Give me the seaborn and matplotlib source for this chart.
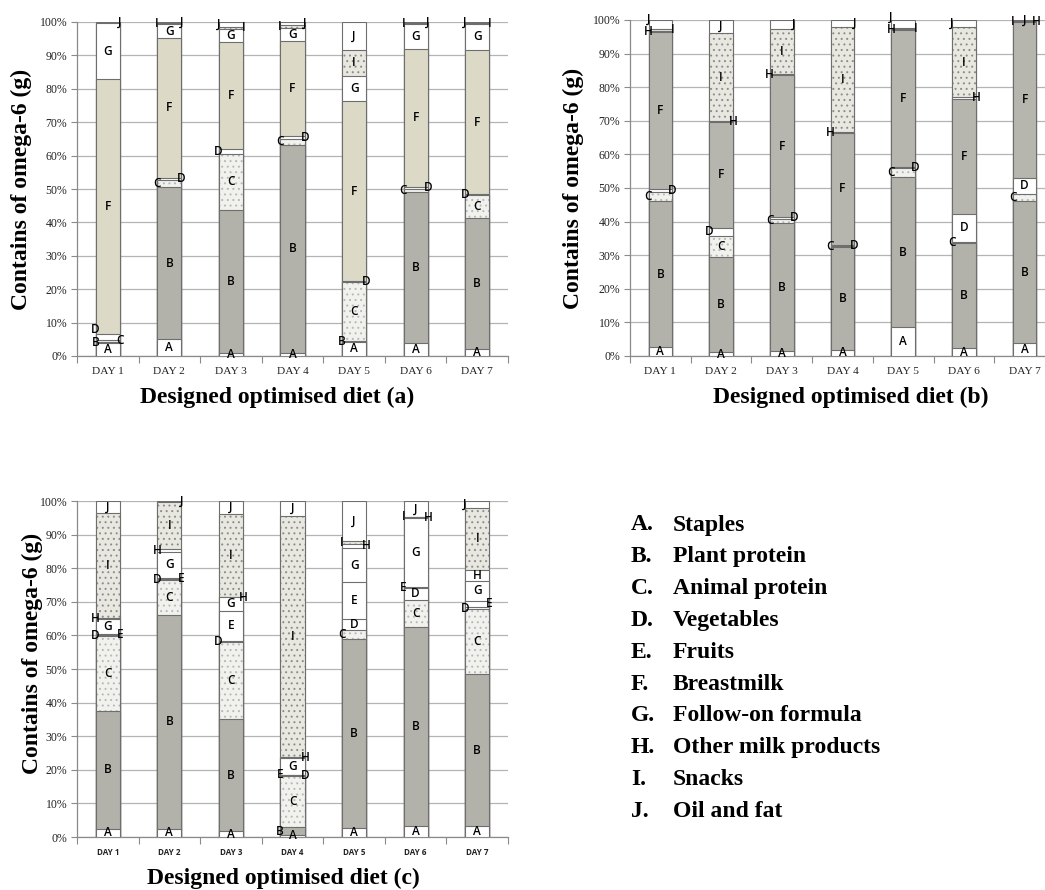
import numpy as np
import pandas as pd
import matplotlib
matplotlib.use("Agg")
import matplotlib.pyplot as plt
import seaborn as sns

sns.set_theme(style="white")
plt.rcParams['font.family'] = ['Liberation Serif', 'DejaVu Serif']
plt.rcParams['hatch.linewidth'] = 0.7

# ---------------- data ----------------
days = ["DAY 1", "DAY 2", "DAY 3", "DAY 4", "DAY 5", "DAY 6", "DAY 7"]
groups = ["A", "B", "C", "D", "E", "F", "G", "H", "I", "J"]
group_names = ["Staples", "Plant protein", "Animal protein", "Vegetables", "Fruits",
               "Breastmilk", "Follow-on formula", "Other milk products", "Snacks", "Oil and fat"]
yticks = [0, 10, 20, 30, 40, 50, 60, 70, 80, 90, 100]
panel_titles = ["Designed optimised diet (a)", "Designed optimised diet (b)", "Designed optimised diet (c)"]
ylabel_text = "Contains of omega-6 (g)"

# panel (a) shares, % of omega-6
a_A = [3.8, 5.0, 1.0, 1.0, 4.3, 4.0, 2.2]
a_B = [0.4, 45.6, 42.8, 62.3, 0.3, 45.1, 39.2]
a_C = [0.6, 2.0, 16.6, 1.8, 17.6, 1.0, 6.7]
a_D = [1.7, 0.8, 1.7, 0.9, 0.3, 0.6, 0.3]
a_E = [0, 0, 0, 0, 0, 0, 0]
a_F = [76.3, 41.8, 31.9, 28.4, 53.8, 41.3, 43.3]
a_G = [16.9, 4.1, 4.0, 3.9, 7.6, 7.5, 7.8]
a_H = [0, 0, 0, 0, 0, 0, 0]
a_I = [0, 0.3, 0.6, 0.7, 7.8, 0.2, 0.2]
a_J = [0.3, 0.4, 1.4, 1.0, 8.3, 0.3, 0.3]

# panel (b)
b_A = [2.8, 1.1, 1.5, 1.8, 8.5, 2.3, 3.8]
b_B = [43.2, 28.5, 38.0, 30.5, 44.7, 31.2, 42.4]
b_C = [2.9, 6.2, 1.4, 0.4, 2.7, 0.5, 1.9]
b_D = [0.7, 2.4, 0.6, 0.3, 0.4, 8.2, 5.0]
b_E = [0, 0, 0, 0, 0, 0, 0]
b_F = [46.7, 31.4, 42.0, 33.5, 40.7, 34.4, 46.3]
b_G = [0, 0, 0, 0, 0, 0, 0]
b_H = [0.5, 0.4, 0.4, 0.2, 0.3, 0.4, 0.2]
b_I = [0.5, 26.0, 13.5, 31.3, 0.2, 21.0, 0.2]
b_J = [2.7, 4.0, 2.6, 2.0, 2.5, 2.0, 0.2]

# panel (c)
c_A = [2.4, 2.5, 1.7, 0.6, 2.6, 3.2, 3.2]
c_B = [35.2, 63.6, 33.5, 2.3, 56.2, 59.4, 45.3]
c_C = [22.2, 10.5, 22.7, 15.3, 2.9, 8.0, 19.3]
c_D = [0.2, 0.3, 0.3, 0.2, 3.2, 3.5, 0.6]
c_E = [0.3, 0.3, 9.2, 0.2, 11.0, 0.2, 1.9]
c_F = [0, 0, 0, 0, 0, 0, 0]
c_G = [4.6, 7.6, 3.9, 4.8, 10.1, 20.7, 6.0]
c_H = [0.3, 0.8, 0.2, 0.4, 1.3, 0.2, 3.3]
c_I = [31.1, 14.1, 24.6, 71.7, 0.8, 0.1, 18.2]
c_J = [3.7, 0.3, 3.9, 4.5, 11.9, 4.7, 2.2]

panels = [
    dict(zip(groups, [a_A, a_B, a_C, a_D, a_E, a_F, a_G, a_H, a_I, a_J])),
    dict(zip(groups, [b_A, b_B, b_C, b_D, b_E, b_F, b_G, b_H, b_I, b_J])),
    dict(zip(groups, [c_A, c_B, c_C, c_D, c_E, c_F, c_G, c_H, c_I, c_J])),
]

# ---------------- styles ----------------
EDGE = "#6e6e6e"
GRID = "#b4b4b4"
GRAY = "#b2b2aa"
fills_common = {
    "A": ("white", None, None), "B": (GRAY, None, None),
    "C": ("#f1f1ee", "...", "#b8b8b8"),
    "D": ("white", None, None), "E": ("white", None, None), "G": ("white", None, None),
    "H": ("white", None, None), "I": ("#e8e8e0", "...", "#8c8c8c"),
    "J": ("white", None, None),
}
fill_F = ["#dcd9c6", "#b6b6ae", "#dcd9c6"]

fig = plt.figure(figsize=(10.45, 8.9), dpi=100)
W, H = 1045.0, 890.0

def ax_rect(left, top, right, bottom):
    return [left / W, 1 - bottom / H, (right - left) / W, (bottom - top) / H]

axes = [
    fig.add_axes(ax_rect(77, 22, 508, 356)),
    fig.add_axes(ax_rect(630, 20, 1055, 356)),
    fig.add_axes(ax_rect(77, 501, 508, 837)),
]
xlabel_pos = [(0.464, -0.123), (0.52, -0.123), (0.478, -0.122)]
ylabel_pos = [(-0.128, 0.5), (-0.134, 0.5), (-0.104, 0.545)]
SIDE = 0.2
MIN_GAP = 3.8

BAR_W = 0.39
for p, (ax, data) in enumerate(zip(axes, panels)):
    fills = dict(fills_common)
    fills["F"] = (fill_F[p], None, None)
    vals = np.array([data[g] for g in groups], dtype=float)
    cum = np.cumsum(vals, axis=0)
    for k in range(len(groups) - 1, -1, -1):
        g = groups[k]
        if np.all(vals[k] == 0):
            continue
        df = pd.DataFrame({"day": days, "val": cum[k]})
        color, hatch, hcol = fills[g]
        z = 3 + 2 * (len(groups) - k)
        if hatch is None:
            sns.barplot(data=df, x="day", y="val", color=color, saturation=1,
                        width=BAR_W, edgecolor=EDGE, linewidth=0.8,
                        ax=ax, zorder=z, errorbar=None)
        else:
            sns.barplot(data=df, x="day", y="val", color=color, saturation=1,
                        width=BAR_W, edgecolor=hcol, linewidth=0.0, hatch=hatch,
                        ax=ax, zorder=z, errorbar=None)
            sns.barplot(data=df, x="day", y="val", fill=False, saturation=1,
                        width=BAR_W, edgecolor=EDGE, linewidth=0.8,
                        ax=ax, zorder=z + 1, errorbar=None)
    # segment letters
    for i in range(len(days)):
        n_small = 0
        last_y = {-1: -99.0, 1: -99.0, 0: -99.0}
        for k, g in enumerate(groups):
            v = vals[k, i]
            if v <= 0:
                continue
            yc = cum[k, i] - v / 2
            if v >= 3:
                xc = i
                last_y[0] = yc
            elif k == 0:
                xc = i
                last_y[0] = yc
            else:
                side = -1 if n_small % 2 == 0 else 1
                n_small += 1
                ny = max(yc, last_y[side] + MIN_GAP)
                if ny > 101 and yc - last_y[0] > MIN_GAP:
                    side = 0
                    ny = yc
                last_y[side] = ny
                yc = ny
                xc = i + side * SIDE
            ax.text(xc, yc, g, ha="center", va="center", fontsize=8.5,
                    family=["Open Sans", "DejaVu Sans"], fontweight="semibold",
                    color="black", zorder=60, clip_on=False)
    ax.set_xlim(-0.5, 6.5)
    ax.set_ylim(0, 100)
    ax.set_yticks(yticks)
    ax.set_yticklabels([f"{t}%" for t in yticks])
    ax.set_xticks(np.arange(-0.5, 7, 1), minor=True)
    ax.yaxis.grid(True, color=GRID, linewidth=0.9)
    ax.xaxis.grid(False)
    ax.set_axisbelow(True)
    for s in ["top", "right"]:
        ax.spines[s].set_visible(False)
    for s in ["left", "bottom"]:
        ax.spines[s].set_color("#8a8a8a")
        ax.spines[s].set_linewidth(0.9)
    ax.tick_params(axis="y", length=4, width=0.8, color="#8a8a8a", direction="out",
                   labelsize=8.5, pad=3, left=True, labelcolor="#222222")
    ax.tick_params(axis="x", which="major", length=0, pad=8, labelsize=8.2,
                   labelcolor="#222222")
    ax.tick_params(axis="x", which="minor", length=5, width=0.8, color="#8a8a8a",
                   direction="out", bottom=True)
    if p == 2:
        for lab in ax.get_xticklabels():
            lab.set_family(["Open Sans", "DejaVu Sans"])
            lab.set_fontweight("bold")
            lab.set_fontsize(5.8)
    ax.set_xlabel("")
    ax.set_ylabel("")
    ax.text(*xlabel_pos[p], panel_titles[p], transform=ax.transAxes, ha="center",
            va="center", fontsize=17, fontweight="bold", color="black")
    ax.text(*ylabel_pos[p], ylabel_text, transform=ax.transAxes, ha="center",
            va="center", rotation=90, fontsize=17, fontweight="bold", color="black")

# legend list on the lower right
for i, (g, name) in enumerate(zip(groups, group_names)):
    yy = 1 - (525 + 31.8 * i) / H
    fig.text(631 / W, yy, f"{g}.", ha="left", va="center", fontsize=17,
             fontweight="bold", color="black")
    fig.text(673 / W, yy, name, ha="left", va="center", fontsize=17,
             fontweight="bold", color="black")

fig.savefig("out.png", dpi=100)
